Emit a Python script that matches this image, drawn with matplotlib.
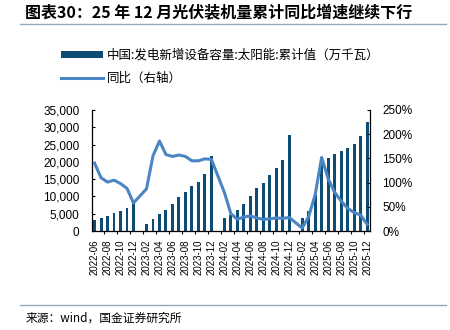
import numpy as np
import matplotlib
matplotlib.use('Agg')
import matplotlib.pyplot as plt
from matplotlib.patches import Patch
from matplotlib.lines import Line2D
from matplotlib.ticker import FuncFormatter, FixedLocator

plt.rcParams['font.family'] = ['Liberation Sans', 'Noto Sans CJK SC', 'DejaVu Sans']
CJK = ['Noto Sans CJK SC', 'DejaVu Sans']

# 月份 2022-06 ~ 2025-12，1月无数据
months = []
for y in range(2022, 2026):
    for m in range(1, 13):
        if (y == 2022 and m < 6):
            continue
        months.append(f'{y}-{m:02d}')

# 累计值（万千瓦）
cum_2022 = [3088, 3773, 4447, 5260, 5824, 6571, 8741]
cum_2023 = [None, 2037, 3366, 4831, 6121, 7842, 9711, 11316, 12894, 14256, 16388, 21688]
cum_2024 = [None, 3672, 4574, 6000, 7915, 10248, 12353, 14004, 16088, 18130, 20630, 27757]
cum_2025 = [None, 3880, 5900, 10493, 19785, 21221, 22325, 23061, 24000, 25287, 27489, 31600]
# 同比（%）
yoy_2022 = [140, 110, 101, 105, 98, 88, 58]
yoy_2023 = [None, 87, 155, 186, 158, 154, 157, 154, 145, 145, 149, 148]
yoy_2024 = [None, 80, 36, 24, 29, 31, 27, 24, 25, 27, 26, 28]
yoy_2025 = [None, 6, 30, 75, 152, 108, 80, 62, 47, 38, 33, 14]

cum = np.array(cum_2022 + cum_2023 + cum_2024 + cum_2025, dtype=float)
yoy = np.array(yoy_2022 + yoy_2023 + yoy_2024 + yoy_2025, dtype=float)
x = np.arange(len(months))

bar_color = '#0D4C73'
line_color = '#4A85C4'
rule_color = '#8FAABB'

fig = plt.figure(figsize=(4.5, 3.3), dpi=100)
ax = fig.add_axes([0.2044, 0.30, 0.6178, 0.3667])
ax2 = ax.twinx()

ok = ~np.isnan(cum)
ax.bar(x[ok], cum[ok], width=0.45, color=bar_color, zorder=2)
ok2 = ~np.isnan(yoy)
ax2.plot(x[ok2], yoy[ok2], color=line_color, linewidth=2.2, solid_joinstyle='round', zorder=3)

ax.set_xlim(-0.4, len(months) - 0.55)
ax.set_ylim(0, 35000)
ax2.set_ylim(0, 250)
ax.set_yticks(np.arange(0, 35001, 5000))
ax2.set_yticks(np.arange(0, 251, 50))
ax.yaxis.set_major_formatter(FuncFormatter(lambda v, p: f'{v:,.0f}'))
ax2.yaxis.set_major_formatter(FuncFormatter(lambda v, p: f'{v:.0f}%'))

ax.set_xticks(x[::2])
ax.set_xticklabels(months[::2], rotation=90, fontsize=7)
ax.xaxis.set_minor_locator(FixedLocator(x[::2] - 0.5))
ax.tick_params(axis='x', which='major', length=0, pad=6)
ax.tick_params(axis='x', which='minor', length=2.5, direction='out', width=0.8)
ax.tick_params(axis='y', direction='in', length=2.5, labelsize=8.5, pad=9)
ax2.tick_params(axis='y', direction='in', length=2.5, labelsize=8.5, pad=9)

for a in (ax, ax2):
    a.spines['top'].set_visible(False)
    for s in ('left', 'right', 'bottom'):
        a.spines[s].set_linewidth(0.9)
ax.spines['right'].set_visible(False)
ax2.spines['left'].set_visible(False)
ax2.spines['bottom'].set_visible(False)

handles = [Patch(facecolor=bar_color, edgecolor='none'),
           Line2D([0], [0], color=line_color, linewidth=2.2)]
labels = ['中国:发电新增设备容量:太阳能:累计值（万千瓦）', '同比（右轴）']
fig.legend(handles, labels, loc='upper left', bbox_to_anchor=(0.135, 0.853),
           frameon=False, prop={'family': CJK, 'size': 9},
           handlelength=3.4, handleheight=0.5, handletextpad=0.3, labelspacing=0.8,
           borderaxespad=0, borderpad=0)

fig.text(0.055, 0.963, '图表30：25 年 12 月光伏装机量累计同比增速继续下行', family=CJK,
         fontsize=11.5, fontweight='bold', style='italic', va='center', ha='left')
fig.add_artist(Line2D([0.045, 0.99], [0.928, 0.928], color=rule_color, linewidth=1.0))
fig.add_artist(Line2D([0.045, 0.99], [0.075, 0.075], color=rule_color, linewidth=1.0))
fig.text(0.058, 0.036, '来源：wind，国金证券研究所', family=CJK, fontsize=8.5,
         va='center', ha='left')

fig.savefig('out.png', dpi=100)
